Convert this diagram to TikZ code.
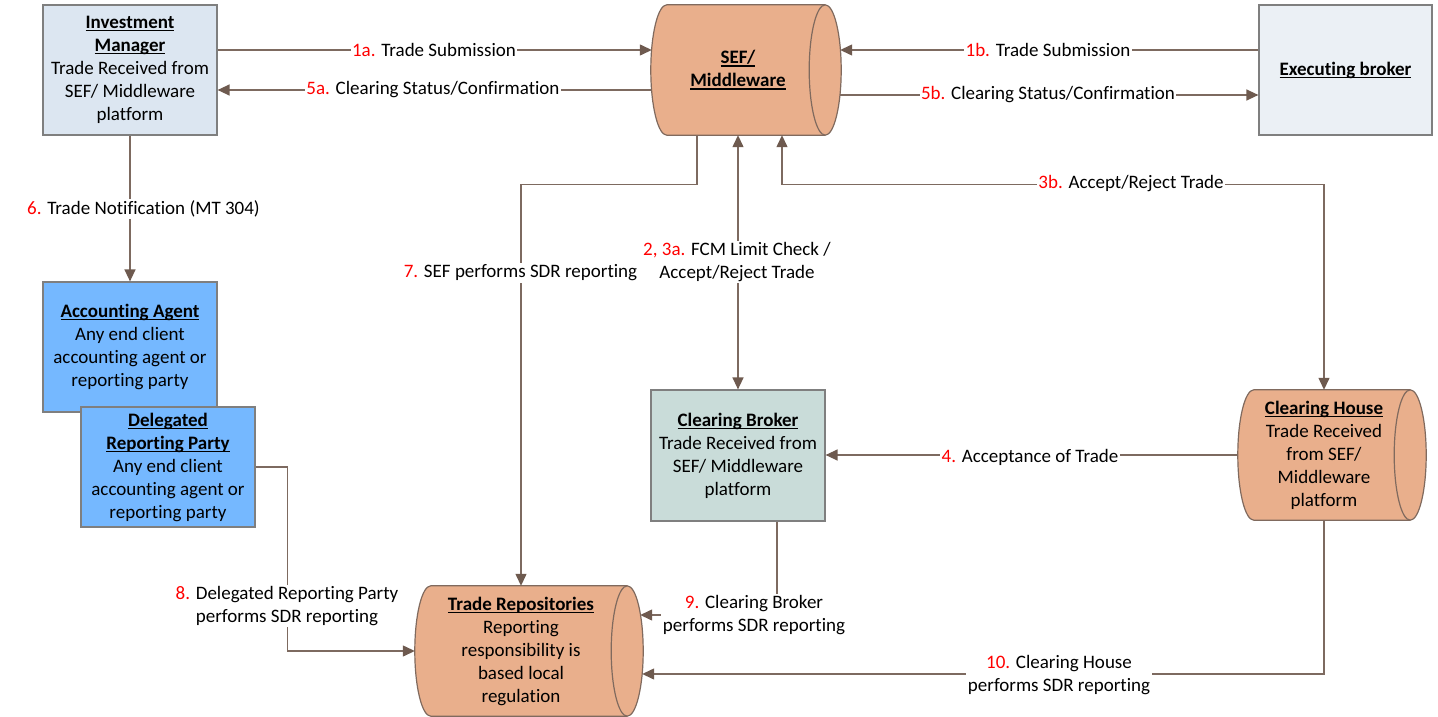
\documentclass[tikz,border=0pt]{standalone}
\usepackage{fontspec}
\setmainfont{Carlito}[Ligatures=NoCommon]
\usetikzlibrary{arrows.meta,calc,backgrounds}
\definecolor{linec}{HTML}{7D6A60}
\definecolor{tipc}{HTML}{6E5A4F}
\definecolor{boxline}{HTML}{7F7F7F}
\definecolor{cylline}{HTML}{806A5E}
\definecolor{imfill}{HTML}{DCE6F1}
\definecolor{aafill}{HTML}{75B8FF}
\definecolor{cbfill}{HTML}{C9DCD9}
\definecolor{ebfill}{HTML}{EBF0F5}
\definecolor{cylfill}{HTML}{E9AF8C}
\definecolor{numred}{HTML}{FF0000}
\newcommand\ulx[1]{\setbox0\hbox{#1}\rlap{\rule[-2.8pt]{\wd0}{1.2pt}}\box0}
\newcommand\nr[1]{\textcolor{numred}{#1}}
\newcommand\cylfor[1]{%
 \path[cylshape] let \p1=(#1.north west), \p2=(#1.south east), \p3=(#1.west), \p4=(#1.east) in
 (\x1+16pt,\y1) -- (\x2,\y1)
 .. controls +(8.8pt,0pt) and +(0pt,36pt) .. (\x4+16pt,\y4)
 .. controls +(0pt,-36pt) and +(8.8pt,0pt) .. (\x2,\y2)
 -- (\x1+16pt,\y2)
 .. controls +(-8.8pt,0pt) and +(0pt,-36pt) .. (\x3,\y3)
 .. controls +(0pt,36pt) and +(-8.8pt,0pt) .. (\x1+16pt,\y1) -- cycle;
 \path[cylrim] let \p1=(#1.north west), \p2=(#1.south east), \p4=(#1.east) in
 (\x2,\y1) .. controls +(-8.8pt,0pt) and +(0pt,36pt) .. (\x4-16pt,\y4)
 .. controls +(0pt,-36pt) and +(-8.8pt,0pt) .. (\x2,\y2);
}
\tikzset{
 txt/.style={font=\fontsize{19}{23}\selectfont, align=center, text=black},
 boxnode/.style={txt, draw=boxline, line width=1.2pt, inner sep=0pt, minimum width=174pt, minimum height=130pt},
 cylnode/.style={txt, inner sep=0pt, minimum height=130pt},
 cylshape/.style={draw=cylline, line width=1.2pt, fill=cylfill},
 cylrim/.style={draw=cylline, line width=1.2pt},
 tipx/.tip={Triangle[length=12pt,width=11pt,color=tipc]},
 conn/.style={draw=linec, line width=1.3pt, -tipx},
 conn2/.style={draw=linec, line width=1.3pt, tipx-tipx},
 plain/.style={draw=linec, line width=1.3pt},
 lbl/.style={txt, fill=white, inner sep=1.5pt},
}
\begin{document}
\begin{tikzpicture}[x=1pt,y=-1pt]
\useasboundingbox (0,0) rectangle (1438,717);
% boxes
\node[boxnode, fill=imfill] (im) at (130,70) {\textbf{\ulx{Investment}}\\\textbf{\ulx{Manager}}\\Trade Received from\\SEF/ Middleware\\platform};
\node[boxnode, fill=ebfill, minimum width=173pt] (eb) at (1345.5,70) {\textbf{\ulx{Executing broker}}};
\node[boxnode, fill=aafill] (aa) at (130,347) {\textbf{\ulx{Accounting Agent}}\\Any end client\\accounting agent or\\reporting party};
\node[boxnode, fill=aafill, minimum height=120pt] (drp) at (168,467) {\textbf{\ulx{Delegated}}\\\textbf{\ulx{Reporting Party}}\\Any end client\\accounting agent or\\reporting party};
\node[boxnode, fill=cbfill, minimum height=131pt] (cb) at (738,455.5) {\textbf{\ulx{Clearing Broker}}\\Trade Received from\\SEF/ Middleware\\platform};
% cylinders
\node[cylnode, minimum width=174pt] (sef) at (738,70) {\textbf{\ulx{SEF/}}\\\textbf{\ulx{Middleware}}};
\node[cylnode, minimum width=172pt] (ch) at (1324,455) {\textbf{\ulx{Clearing House}}\\Trade Received\\from SEF/\\Middleware\\platform};
\node[cylnode, minimum width=212pt] (tr) at (521,651) {\textbf{\ulx{Trade Repositories}}\\Reporting\\responsibility is\\based local\\regulation};
\begin{scope}[on background layer]
\cylfor{sef}
\cylfor{ch}
\cylfor{tr}
\end{scope}
% connectors
\draw[conn] ($(im.east)+(0,-20)$) -- ($(sef.west)+(1,-20)$);
\draw[conn] ($(sef.west)+(1,20)$) -- ($(im.east)+(0,20)$);
\draw[conn] ($(eb.west)+(0,-20)$) -- ($(sef.east)+(15,-20)$);
\draw[conn] ($(sef.east)+(15,25)$) -- ($(eb.west)+(0,25)$);
\draw[conn] (im.south) -- (aa.north);
\coordinate (c7) at ($(sef.south)+(-41,49)$);
\draw[conn] ($(sef.south)+(-41,0)$) -- (c7) -| (tr.north);
\draw[conn2] (cb.north) -- (sef.south);
\coordinate (c3b) at ($(sef.south)+(44,49)$);
\draw[conn2] ($(sef.south)+(44,0)$) -- (c3b) -| (ch.north);
\draw[conn] (ch.west) -- (cb.east |- ch.west);
\coordinate (c8) at ($(tr.west)+(-127,0)$);
\draw[conn] (drp.east) -| (c8) -- (tr.west);
\draw[conn] ($(cb.south)+(39,0)$) |- ($(tr.east)+(13,-36)$);
\draw[conn] (ch.south) |- ($(tr.east)+(15,23)$);
% labels
\node[lbl] (l1a) at (434,50) {\nr{1a.} Trade Submission};
\node[lbl] (l5a) at (433,90) {\nr{5a.} Clearing Status/Confirmation};
\node[lbl] (l1b) at (1048,50) {\nr{1b.} Trade Submission};
\node[lbl] (l5b) at (1048,95) {\nr{5b.} Clearing Status/Confirmation};
\node[lbl] (l6) at (143.5,209) {\nr{6.} Trade Notification (MT 304)};
\node[lbl] (l7) at (520.5,273) {\nr{7.} SEF performs SDR reporting};
\node[lbl] (l23) at (737,262) {\nr{2, 3a.} FCM Limit Check /\\Accept/Reject Trade};
\node[lbl] (l3b) at (1131,184) {\nr{3b.} Accept/Reject Trade};
\node[lbl] (l4) at (1030,457) {\nr{4.} Acceptance of Trade};
\node[lbl] (l8) at (287,606) {\nr{8.} Delegated Reporting Party\\performs SDR reporting};
\node[lbl] (l9) at (754,615) {\nr{9.} Clearing Broker\\performs SDR reporting};
\node[lbl] (l10) at (1059,675) {\nr{10.} Clearing House\\performs SDR reporting};
\end{tikzpicture}
\end{document}
